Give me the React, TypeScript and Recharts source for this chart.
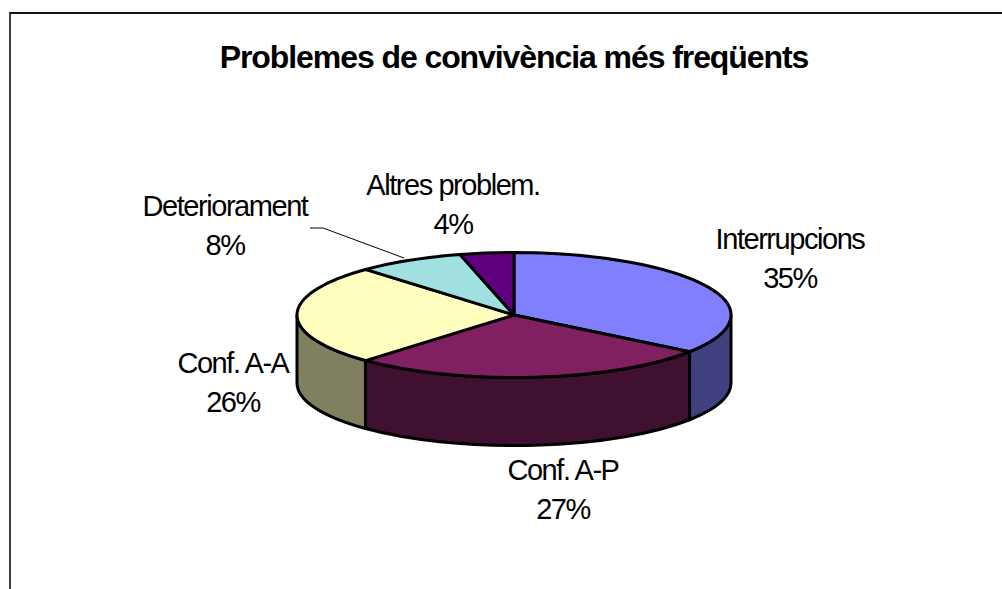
import { PieChart, Pie } from 'recharts';

const categories = ['Interrupcions', 'Conf. A-P', 'Conf. A-A', 'Deteriorament', 'Altres problem.'];
const percentages = [35, 27, 26, 8, 4];
const topColors = ['#8080ff', '#802060', '#ffffc0', '#a0e0e0', '#600080'];
const wallColors = ['#404080', '#401030', '#808060', '#507070', '#300040'];
// centre x and first baseline of each two-line label
const labelAnchors = [
  [790, 249],
  [563, 480],
  [233, 373],
  [225, 216],
  [453, 195],
];

const tableData = categories.map((name, i) => ({ name, value: percentages[i] }));

const WIDTH = 1002;
const HEIGHT = 589;
const CX = 514;
const CY = 315;
const RADIUS = 217;
const SQUASH = 62.5 / 217;
const DEPTH = 68;
const FONT = "'Liberation Sans', Arial, sans-serif";

const rad = Math.PI / 180;
const px = (r: number, a: number) => CX + r * Math.cos(a * rad);
const py = (r: number, a: number) => CY - r * SQUASH * Math.sin(a * rad);

function TopSlice(props: any) {
  const { outerRadius: r, startAngle, endAngle, index } = props;
  const large = Math.abs(endAngle - startAngle) > 180 ? 1 : 0;
  const d =
    `M${CX},${CY} L${px(r, startAngle)},${py(r, startAngle)} ` +
    `A${r},${r * SQUASH} 0 ${large} 1 ${px(r, endAngle)},${py(r, endAngle)} Z`;
  return <path d={d} fill={topColors[index]} stroke="#000" strokeWidth={3} strokeLinejoin="round" />;
}

// only the part of a slice below the horizontal axis shows a wall
function WallSlice(props: any) {
  const { outerRadius: r, startAngle, endAngle, index } = props;
  const from = Math.min(startAngle, 0);
  const to = Math.max(endAngle, -180);
  if (from <= to) return null;
  const ry = r * SQUASH;
  const large = from - to > 180 ? 1 : 0;
  const d =
    `M${px(r, from)},${py(r, from)} A${r},${ry} 0 ${large} 1 ${px(r, to)},${py(r, to)} ` +
    `L${px(r, to)},${py(r, to) + DEPTH} A${r},${ry} 0 ${large} 0 ${px(r, from)},${py(r, from) + DEPTH} Z`;
  return <path d={d} fill={wallColors[index]} stroke="#000" strokeWidth={3} strokeLinejoin="round" />;
}

function SliceLabel(props: any) {
  const { index, name, value } = props;
  const [x, y] = labelAnchors[index];
  return (
    <g>
      {index === 3 && <polyline points="310,228 323,228 404,258" fill="none" stroke="#000" strokeWidth={1} />}
      <text x={x} y={y} textAnchor="middle" fontFamily={FONT} fontSize={29} letterSpacing={-1.45} fill="#000">
        {name}
      </text>
      <text x={x} y={y + 38.5} textAnchor="middle" fontFamily={FONT} fontSize={29} letterSpacing={-1.45} fill="#000">
        {value}%
      </text>
    </g>
  );
}

export default function App() {
  return (
    <div style={{ position: 'absolute', left: 0, top: 0, width: WIDTH, height: HEIGHT, overflow: 'hidden', background: '#fff' }}>
      <div
        style={{
          position: 'absolute',
          left: 9,
          top: 12,
          width: 1100,
          height: 700,
          borderTop: '2px solid #111',
          borderLeft: '2px solid #404040',
          boxSizing: 'border-box',
        }}
      />
      <div style={{ position: 'absolute', left: 0, top: 0 }}>
        <PieChart width={WIDTH} height={HEIGHT} margin={{ top: 0, right: 0, bottom: 0, left: 0 }}>
          <text x={514} y={68} textAnchor="middle" fontFamily={FONT} fontWeight="bold" fontSize={32} letterSpacing={-1.08} fill="#000">
            Problemes de convivència més freqüents
          </text>
          <Pie
            data={tableData}
            dataKey="value"
            nameKey="name"
            cx={CX}
            cy={CY}
            outerRadius={RADIUS}
            startAngle={90}
            endAngle={-270}
            paddingAngle={0}
            isAnimationActive={false}
            shape={WallSlice}
            label={false}
            labelLine={false}
          />
          <Pie
            data={tableData}
            dataKey="value"
            nameKey="name"
            cx={CX}
            cy={CY}
            outerRadius={RADIUS}
            startAngle={90}
            endAngle={-270}
            paddingAngle={0}
            isAnimationActive={false}
            shape={TopSlice}
            label={SliceLabel}
            labelLine={false}
          />
        </PieChart>
      </div>
    </div>
  );
}
